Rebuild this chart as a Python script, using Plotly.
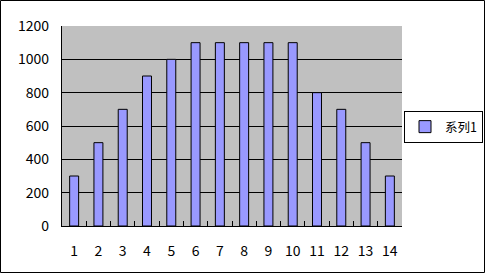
import plotly.graph_objects as go

categories = [str(i) for i in range(1, 15)]
values = [300, 500, 700, 900, 1000, 1100, 1100, 1100, 1100, 1100, 800, 700, 500, 300]
series_name = "系列1"
y_ticks = [0, 200, 400, 600, 800, 1000, 1200]
grid_vals = [200, 400, 600, 800, 1000]

W, H = 485, 274
L, R, T, B = 62, 83, 26, 48
pw, ph = W - L - R, H - T - B
font = "Noto Sans CJK SC, DejaVu Sans, sans-serif"

fig = go.Figure()
fig.add_trace(go.Bar(
    x=categories, y=values, name=series_name,
    marker=dict(color="#9999FF", line=dict(color="black", width=1)),
))
fig.add_trace(go.Scatter(x=[], y=[], yaxis="y2", showlegend=False))

fig.update_layout(
    width=W, height=H,
    margin=dict(l=L, r=R, t=T, b=B, autoexpand=False),
    paper_bgcolor="white", plot_bgcolor="#C0C0C0",
    font=dict(family=font, size=14, color="black"),
    bargap=0.63,
    showlegend=True,
    legend=dict(
        xref="container", yref="container",
        x=404 / W, y=1 - 127 / H,
        xanchor="left", yanchor="middle",
        bordercolor="black", borderwidth=1, bgcolor="white",
        font=dict(size=12.5), itemwidth=30,
        tracegroupgap=0,
    ),
    xaxis=dict(
        type="category", showline=True, linecolor="black", linewidth=1,
        ticks="inside", tickson="boundaries", ticklen=5, tickcolor="black",
        ticklabelstandoff=12, showgrid=False, tickangle=0,
    ),
    yaxis=dict(
        range=[0, 1200], tickvals=grid_vals, showticklabels=False,
        showgrid=True, gridcolor="black", gridwidth=1, zeroline=False,
        showline=True, linecolor="black", linewidth=1, ticks="",
    ),
    yaxis2=dict(
        overlaying="y", side="left", range=[0, 1200], tickvals=y_ticks,
        showgrid=False, zeroline=False, ticks="inside", ticklen=4,
        tickcolor="black", ticklabelstandoff=12, showline=False,
    ),
    shapes=[dict(
        type="rect", xref="paper", yref="paper",
        x0=(0.5 - L) / pw, x1=(484.5 - L) / pw,
        y0=(T + ph - 272.5) / ph, y1=(T + ph - 0.5) / ph,
        line=dict(color="black", width=1), fillcolor="rgba(0,0,0,0)",
        layer="above",
    )],
)

fig.write_html("out.html")
